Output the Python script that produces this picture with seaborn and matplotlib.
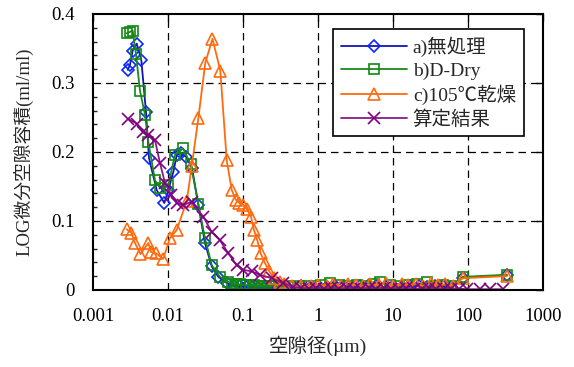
import numpy as np
import pandas as pd
import seaborn as sns
import matplotlib
matplotlib.use("Agg")
import matplotlib.pyplot as plt
from matplotlib.ticker import FixedLocator, FixedFormatter, NullLocator, MultipleLocator

# ---------------- data ----------------
labels = ["a)無処理", "b)D-Dry", "c)105℃乾燥", "算定結果"]

a_x = [0.0029, 0.00311, 0.00338, 0.00383, 0.00441, 0.00509, 0.00558, 0.00706, 0.00893, 0.0101,
       0.0118, 0.0131, 0.0148, 0.0174, 0.0209, 0.0254, 0.0311, 0.0383, 0.0469, 0.0607,
       0.075, 0.09, 0.11, 0.13, 0.16, 0.19, 0.23, 0.28, 0.35, 0.45, 0.6, 0.8, 1.0, 1.3, 1.7,
       2.2, 2.8, 3.6, 4.7, 6.0, 8.0, 10, 13, 17, 22, 28, 36, 47, 60, 85, 330]
a_y = [0.319, 0.326, 0.347, 0.357, 0.333, 0.258, 0.191, 0.145, 0.126, 0.145,
       0.171, 0.196, 0.198, 0.193, 0.177, 0.123, 0.068, 0.034, 0.019, 0.010,
       0.006, 0.005, 0.004, 0.004, 0.003, 0.003, 0.003, 0.003, 0.004, 0.004, 0.005, 0.004, 0.005, 0.004, 0.005,
       0.006, 0.004, 0.005, 0.006, 0.005, 0.004, 0.005, 0.004, 0.005, 0.006, 0.004, 0.005, 0.005, 0.004, 0.018, 0.021]

b_x = [0.00281, 0.00311, 0.00338, 0.00374, 0.00423, 0.00493, 0.00546, 0.00671, 0.00782, 0.0101,
       0.0124, 0.0159, 0.0201, 0.0254, 0.0311, 0.0383, 0.0493, 0.0637,
       0.072, 0.08, 0.09, 0.1, 0.11, 0.125, 0.14, 0.16, 0.18, 0.2, 0.23, 0.26, 0.3, 0.4, 0.55,
       0.7, 0.9, 1.1, 1.45, 1.9, 2.5, 3.3, 4.4, 5.6, 6.8, 9, 12, 16, 21, 28, 36, 47, 60, 85, 330]
b_y = [0.372, 0.374, 0.376, 0.342, 0.289, 0.254, 0.215, 0.159, 0.148, 0.152,
       0.196, 0.205, 0.182, 0.125, 0.075, 0.036, 0.019, 0.012,
       0.009, 0.008, 0.008, 0.007, 0.007, 0.007, 0.007, 0.006, 0.006, 0.006, 0.006, 0.006, 0.005, 0.006, 0.005,
       0.006, 0.006, 0.007, 0.010, 0.007, 0.006, 0.007, 0.006, 0.008, 0.011, 0.007, 0.006, 0.007, 0.008, 0.011, 0.006, 0.007, 0.006, 0.019, 0.022]

c_x = [0.00281, 0.00324, 0.00363, 0.0043, 0.00546, 0.00593, 0.00692, 0.00865, 0.0106, 0.0131,
       0.0178, 0.0207, 0.0254, 0.0314, 0.0392, 0.0498, 0.0607, 0.0707, 0.080, 0.0893,
       0.101, 0.112, 0.128, 0.140, 0.155, 0.172, 0.196, 0.224, 0.259, 0.311,
       0.35, 0.45, 0.6, 0.8, 1.0, 1.3, 1.6, 2.0, 2.5, 3.2, 4.0, 5.0, 6.5, 8.0, 10, 13, 16, 20, 25, 32, 40, 50, 63, 85, 330]
c_y = [0.088, 0.083, 0.068, 0.052, 0.068, 0.055, 0.053, 0.045, 0.075, 0.087,
       0.129, 0.179, 0.249, 0.329, 0.364, 0.318, 0.188, 0.145, 0.131, 0.126,
       0.123, 0.118, 0.106, 0.087, 0.072, 0.053, 0.039, 0.027, 0.017, 0.011,
       0.008, 0.006, 0.005, 0.006, 0.007, 0.006, 0.008, 0.006, 0.009, 0.007, 0.006, 0.008, 0.007, 0.010, 0.006, 0.008, 0.007, 0.009, 0.006, 0.010, 0.007, 0.008, 0.006, 0.017, 0.020]

d_x = [0.00296, 0.00383, 0.0046, 0.00546, 0.00671, 0.00782, 0.00912, 0.011, 0.0131, 0.016,
       0.0207, 0.0296, 0.0383, 0.0493, 0.0637, 0.0824, 0.101, 0.130, 0.168, 0.240, 0.344, 0.466,
       0.6, 0.75, 0.95, 1.2, 1.5, 1.9, 2.4, 3.0, 3.8, 4.8, 6.0, 7.5, 9.5, 12, 15, 19, 24, 30, 38,
       48, 60, 75, 96, 145, 196, 290]
d_y = [0.248, 0.241, 0.229, 0.225, 0.217, 0.184, 0.155, 0.138, 0.126, 0.123,
       0.128, 0.106, 0.084, 0.072, 0.053, 0.036, 0.029, 0.027, 0.022, 0.017, 0.010, 0.004,
       0.003, 0.002, 0.003, 0.002, 0.003, 0.002, 0.003, 0.002, 0.002, 0.003, 0.002, 0.003, 0.002, 0.002, 0.003, 0.002, 0.002, 0.003, 0.002,
       0.002, 0.002, 0.002, 0.001, 0.001, 0.001, 0.001]

x_ticks = [0.001, 0.01, 0.1, 1, 10, 100, 1000]
x_ticklabels = ["0.001", "0.01", "0.1", "1", "10", "100", "1000"]
y_ticks = [0, 0.1, 0.2, 0.3, 0.4]
y_ticklabels = ["0", "0.1", "0.2", "0.3", "0.4"]

# ---------------- style ----------------
sns.set_theme(style="white")
plt.rcParams["font.family"] = ["Liberation Serif", "Noto Sans CJK JP"]

fig = plt.figure(figsize=(5.74, 3.67), dpi=100)
ax = fig.add_axes([0.162, 0.210, 0.784, 0.752])

series = [
    (a_x, a_y, labels[0], "#1414b4", "#0a28ff", "D", 6.5),
    (b_x, b_y, labels[1], "#1a8a1a", "#138813", "s", 7),
    (c_x, c_y, labels[2], "#ff6a10", "#ff6a10", "^", 9),
    (d_x, d_y, labels[3], "#8a1a8a", "#800080", "x", 8),
]
for xs, ys, lab, lc, mc, mk, ms in series:
    df = pd.DataFrame({"x": xs, "y": ys})
    sns.lineplot(data=df, x="x", y="y", ax=ax, estimator=None, sort=False,
                 color=lc, linewidth=1.3, marker=mk, markersize=ms,
                 markerfacecolor="none", markeredgecolor=mc,
                 markeredgewidth=1.2, label=lab)

ax.set_xscale("log")
ax.set_xlim(0.001, 1000)
ax.set_ylim(0, 0.4)
ax.xaxis.set_major_locator(FixedLocator(x_ticks))
ax.xaxis.set_major_formatter(FixedFormatter(x_ticklabels))
ax.xaxis.set_minor_locator(NullLocator())
ax.yaxis.set_major_locator(FixedLocator(y_ticks))
ax.yaxis.set_major_formatter(FixedFormatter(y_ticklabels))
ax.yaxis.set_minor_locator(MultipleLocator(0.02))

ax.tick_params(axis="both", which="major", direction="in", length=5, width=1,
               colors="black", labelsize=13.5, top=True, right=True)
ax.tick_params(axis="x", which="major", pad=13)
ax.tick_params(axis="y", which="major", pad=13)
ax.tick_params(axis="y", which="minor", direction="in", length=3, width=1, left=True, right=False)

for s in ax.spines.values():
    s.set_color("black")
    s.set_linewidth(1.5)

for xv in x_ticks[1:-1]:
    ax.axvline(xv, color="black", lw=0.9, ls=(0, (6, 4)), zorder=0.5)
for yv in y_ticks[1:-1]:
    ax.axhline(yv, color="black", lw=0.9, ls=(0, (6, 4)), zorder=0.5)

ax.set_xlabel("空隙径(µm)", fontsize=14, labelpad=8)
ax.set_ylabel("LOG微分空隙容積(ml/ml)", fontsize=13.5, labelpad=12)

leg = ax.legend(loc="upper right", bbox_to_anchor=(0.957, 0.945), fontsize=14,
                frameon=True, fancybox=False, framealpha=1, edgecolor="black",
                handlelength=3.4, borderpad=0.4, labelspacing=0.25, handletextpad=0.3,
                borderaxespad=0.0)
leg.get_frame().set_linewidth(1.2)

fig.savefig("out.png", dpi=100)
